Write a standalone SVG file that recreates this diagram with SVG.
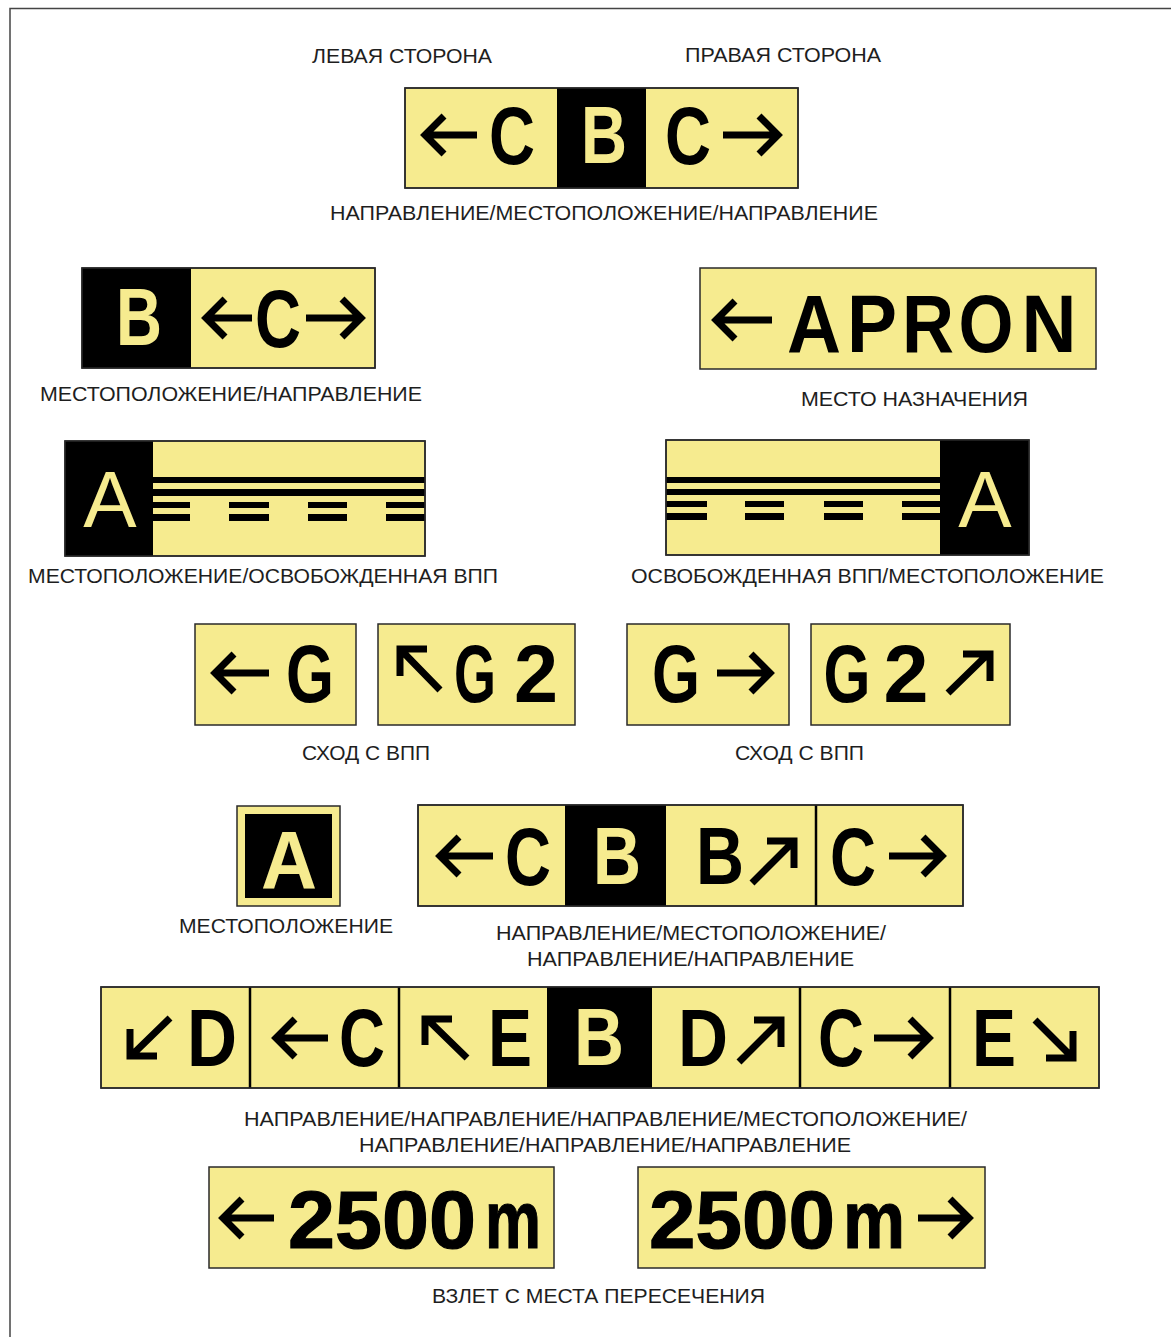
<svg xmlns="http://www.w3.org/2000/svg" width="1171" height="1337" viewBox="0 0 1171 1337">
<style>
.y{fill:#F6EB8F;stroke:#2a2a2a;stroke-width:1.5}
.k{fill:#000}
.bd{fill:none;stroke:#2a2a2a;stroke-width:1.5}
.dv{stroke:#000;stroke-width:2.5}
.L{font-family:"Liberation Sans",Arial,sans-serif;font-weight:bold;font-size:82px;text-anchor:middle;fill:#000}
.Ly{fill:#F6EB8F}
.R{font-family:"Liberation Sans",Arial,sans-serif;font-size:80px;text-anchor:middle;fill:#F6EB8F}
.N{font-family:"Liberation Sans",Arial,sans-serif;font-weight:bold;font-size:82px;fill:#000;stroke:#000;stroke-width:1.2}
.a{fill:none;stroke:#000;stroke-width:7;stroke-linejoin:miter;stroke-miterlimit:10}
.t{font-family:"Liberation Sans",Arial,sans-serif;font-size:21px;fill:#1e1e1e}
.rw{fill:#000}
</style>
<rect width="1171" height="1337" fill="#fff"/>
<path d="M10 1337V8.5H1171" fill="none" stroke="#444" stroke-width="1.5"/>

<g id="labels">
<text class="t" x="312" y="63" textLength="180" lengthAdjust="spacingAndGlyphs">ЛЕВАЯ СТОРОНА</text>
<text class="t" x="685" y="62" textLength="196" lengthAdjust="spacingAndGlyphs">ПРАВАЯ СТОРОНА</text>
<text class="t" x="330" y="220" textLength="548" lengthAdjust="spacingAndGlyphs">НАПРАВЛЕНИЕ/МЕСТОПОЛОЖЕНИЕ/НАПРАВЛЕНИЕ</text>
<text class="t" x="40" y="401" textLength="382" lengthAdjust="spacingAndGlyphs">МЕСТОПОЛОЖЕНИЕ/НАПРАВЛЕНИЕ</text>
<text class="t" x="801" y="406" textLength="227" lengthAdjust="spacingAndGlyphs">МЕСТО НАЗНАЧЕНИЯ</text>
<text class="t" x="28" y="583" textLength="470" lengthAdjust="spacingAndGlyphs">МЕСТОПОЛОЖЕНИЕ/ОСВОБОЖДЕННАЯ ВПП</text>
<text class="t" x="631" y="583" textLength="473" lengthAdjust="spacingAndGlyphs">ОСВОБОЖДЕННАЯ ВПП/МЕСТОПОЛОЖЕНИЕ</text>
<text class="t" x="302" y="760" textLength="128" lengthAdjust="spacingAndGlyphs">СХОД С ВПП</text>
<text class="t" x="735" y="760" textLength="129" lengthAdjust="spacingAndGlyphs">СХОД С ВПП</text>
<text class="t" x="179" y="933" textLength="214" lengthAdjust="spacingAndGlyphs">МЕСТОПОЛОЖЕНИЕ</text>
<text class="t" x="496" y="940" textLength="390" lengthAdjust="spacingAndGlyphs">НАПРАВЛЕНИЕ/МЕСТОПОЛОЖЕНИЕ/</text>
<text class="t" x="527" y="966" textLength="327" lengthAdjust="spacingAndGlyphs">НАПРАВЛЕНИЕ/НАПРАВЛЕНИЕ</text>
<text class="t" x="244" y="1126" textLength="723" lengthAdjust="spacingAndGlyphs">НАПРАВЛЕНИЕ/НАПРАВЛЕНИЕ/НАПРАВЛЕНИЕ/МЕСТОПОЛОЖЕНИЕ/</text>
<text class="t" x="359" y="1152" textLength="492" lengthAdjust="spacingAndGlyphs">НАПРАВЛЕНИЕ/НАПРАВЛЕНИЕ/НАПРАВЛЕНИЕ</text>
<text class="t" x="432" y="1303" textLength="333" lengthAdjust="spacingAndGlyphs">ВЗЛЕТ С МЕСТА ПЕРЕСЕЧЕНИЯ</text>
</g>

<g id="sign-top">
<rect class="y" x="405" y="88" width="393" height="100"/>
<rect class="k" x="557" y="88" width="89" height="100"/>
<rect class="bd" x="405" y="88" width="393" height="100"/>
<path class="a" d="M477 135H428M444 116L425 135L444 154"/>
<text class="L" x="512" y="164" textLength="46" lengthAdjust="spacingAndGlyphs">C</text>
<text class="L Ly" x="604" y="163" textLength="46" lengthAdjust="spacingAndGlyphs">B</text>
<text class="L" x="688" y="164" textLength="46" lengthAdjust="spacingAndGlyphs">C</text>
<path class="a" d="M723 135H775M759 116L778 135L759 154"/>
</g>

<g id="sign-b-c">
<rect class="y" x="82" y="268" width="293" height="100"/>
<rect class="k" x="82" y="268" width="109" height="100"/>
<rect class="bd" x="82" y="268" width="293" height="100"/>
<text class="L Ly" x="139" y="345" textLength="46" lengthAdjust="spacingAndGlyphs">B</text>
<path class="a" d="M252 318H209M225 299L206 318L225 337"/>
<text class="L" x="278" y="347" textLength="46" lengthAdjust="spacingAndGlyphs">C</text>
<path class="a" d="M306 318H358M342 299L361 318L342 337"/>
</g>

<g id="sign-apron">
<rect class="y" x="700" y="268" width="396" height="101"/>
<path class="a" d="M772 320H719M735 301L716 320L735 339"/>
<text class="L" x="814" y="352" font-size="85" textLength="54" lengthAdjust="spacingAndGlyphs">A</text>
<text class="L" x="872" y="352" font-size="85" textLength="50" lengthAdjust="spacingAndGlyphs">P</text>
<text class="L" x="928" y="352" font-size="85" textLength="52" lengthAdjust="spacingAndGlyphs">R</text>
<text class="L" x="986" y="352" font-size="85" textLength="55" lengthAdjust="spacingAndGlyphs">O</text>
<text class="L" x="1049" y="352" font-size="85" textLength="55" lengthAdjust="spacingAndGlyphs">N</text>
</g>

<g id="sign-runway-left">
<rect class="y" x="65" y="441" width="360" height="115"/>
<rect class="k" x="65" y="441" width="88" height="115"/>
<text class="R" x="110" y="527">A</text>
<rect class="rw" x="153" y="477" width="272" height="6"/>
<rect class="rw" x="153" y="489" width="272" height="7"/>
<rect class="rw" x="153" y="502" width="37" height="6"/>
<rect class="rw" x="153" y="514" width="37" height="7"/>
<rect class="rw" x="229" y="502" width="40" height="6"/>
<rect class="rw" x="229" y="514" width="40" height="7"/>
<rect class="rw" x="308" y="502" width="39" height="6"/>
<rect class="rw" x="308" y="514" width="39" height="7"/>
<rect class="rw" x="386" y="502" width="39" height="6"/>
<rect class="rw" x="386" y="514" width="39" height="7"/>
<rect class="bd" x="65" y="441" width="360" height="115"/>
</g>

<g id="sign-runway-right">
<rect class="y" x="666" y="440" width="363" height="115"/>
<rect class="k" x="940" y="440" width="89" height="115"/>
<text class="R" x="985" y="527">A</text>
<rect class="rw" x="666" y="477" width="274" height="6"/>
<rect class="rw" x="666" y="489" width="274" height="6"/>
<rect class="rw" x="666" y="501" width="41" height="6"/>
<rect class="rw" x="666" y="513" width="41" height="7"/>
<rect class="rw" x="745" y="501" width="39" height="6"/>
<rect class="rw" x="745" y="513" width="39" height="7"/>
<rect class="rw" x="824" y="501" width="39" height="6"/>
<rect class="rw" x="824" y="513" width="39" height="7"/>
<rect class="rw" x="902" y="501" width="38" height="6"/>
<rect class="rw" x="902" y="513" width="38" height="7"/>
<rect class="bd" x="666" y="440" width="363" height="115"/>
</g>

<g id="sign-g-left">
<rect class="y" x="195" y="624" width="161" height="101"/>
<path class="a" d="M269 673H218M234 654L215 673L234 692"/>
<text class="L" x="310" y="702" font-size="78" textLength="48" lengthAdjust="spacingAndGlyphs">G</text>
</g>
<g id="sign-g2-left">
<rect class="y" x="378" y="624" width="197" height="101"/>
<path class="a" d="M440 690L402 651M400 676V649H427"/>
<text class="L" x="475" y="702" font-size="78" textLength="42" lengthAdjust="spacingAndGlyphs">G</text>
<text class="L" x="536" y="702" font-size="78" textLength="44" lengthAdjust="spacingAndGlyphs">2</text>
</g>
<g id="sign-g-right">
<rect class="y" x="627" y="624" width="162" height="101"/>
<text class="L" x="676" y="702" font-size="78" textLength="48" lengthAdjust="spacingAndGlyphs">G</text>
<path class="a" d="M717 673H767M751 654L770 673L751 692"/>
</g>
<g id="sign-g2-right">
<rect class="y" x="811" y="624" width="199" height="101"/>
<text class="L" x="847" y="702" font-size="78" textLength="47" lengthAdjust="spacingAndGlyphs">G</text>
<text class="L" x="906" y="702" font-size="78" textLength="45" lengthAdjust="spacingAndGlyphs">2</text>
<path class="a" d="M948 693L988 654M963 654H990V681"/>
</g>

<g id="sign-location-a">
<rect class="y" x="237" y="806" width="103" height="100"/>
<rect class="k" x="245" y="814" width="87" height="84"/>
<text class="L Ly" x="289" y="888" font-size="78" textLength="56" lengthAdjust="spacingAndGlyphs">A</text>
</g>

<g id="sign-row5">
<rect class="y" x="418" y="805" width="545" height="101"/>
<rect class="k" x="565" y="805" width="101" height="101"/>
<line class="dv" x1="816" y1="805" x2="816" y2="906"/>
<rect class="bd" x="418" y="805" width="545" height="101"/>
<path class="a" d="M493 856H443M459 837L440 856L459 875"/>
<text class="L" x="528" y="885" textLength="46" lengthAdjust="spacingAndGlyphs">C</text>
<text class="L Ly" x="617" y="884" textLength="48" lengthAdjust="spacingAndGlyphs">B</text>
<text class="L" x="720" y="884" textLength="48" lengthAdjust="spacingAndGlyphs">B</text>
<path class="a" d="M752 883L792 843M767 841H794V868"/>
<text class="L" x="853" y="885" textLength="46" lengthAdjust="spacingAndGlyphs">C</text>
<path class="a" d="M889 856H939M923 837L942 856L923 875"/>
</g>

<g id="sign-row6">
<rect class="y" x="101" y="987" width="998" height="101"/>
<rect class="k" x="547" y="987" width="105" height="101"/>
<line class="dv" x1="250" y1="987" x2="250" y2="1088"/>
<line class="dv" x1="399" y1="987" x2="399" y2="1088"/>
<line class="dv" x1="800" y1="987" x2="800" y2="1088"/>
<line class="dv" x1="950" y1="987" x2="950" y2="1088"/>
<rect class="bd" x="101" y="987" width="998" height="101"/>
<path class="a" d="M170 1018L132 1055M130 1029V1056H157"/>
<text class="L" x="212" y="1066" textLength="50" lengthAdjust="spacingAndGlyphs">D</text>
<path class="a" d="M328 1038H279M295 1019L276 1038L295 1057"/>
<text class="L" x="362" y="1066" textLength="46" lengthAdjust="spacingAndGlyphs">C</text>
<path class="a" d="M467 1058L427 1019M425 1045V1019H452"/>
<text class="L" x="510" y="1066" textLength="44" lengthAdjust="spacingAndGlyphs">E</text>
<text class="L Ly" x="599" y="1065" textLength="50" lengthAdjust="spacingAndGlyphs">B</text>
<text class="L" x="703" y="1066" textLength="50" lengthAdjust="spacingAndGlyphs">D</text>
<path class="a" d="M739 1062L779 1022M754 1020H781V1047"/>
<text class="L" x="841" y="1066" textLength="46" lengthAdjust="spacingAndGlyphs">C</text>
<path class="a" d="M874 1038H926M910 1019L929 1038L910 1057"/>
<text class="L" x="994" y="1066" textLength="44" lengthAdjust="spacingAndGlyphs">E</text>
<path class="a" d="M1035 1020L1071 1056M1046 1058H1073V1031"/>
</g>

<g id="sign-2500-left">
<rect class="y" x="209" y="1167" width="345" height="101"/>
<path class="a" d="M274 1218H226M242 1199L223 1218L242 1237"/>
<text class="N" x="288" y="1248" textLength="188" lengthAdjust="spacingAndGlyphs">2500</text>
<text class="N" x="485" y="1248" textLength="56" lengthAdjust="spacingAndGlyphs">m</text>
</g>
<g id="sign-2500-right">
<rect class="y" x="638" y="1167" width="347" height="101"/>
<text class="N" x="649" y="1248" textLength="186" lengthAdjust="spacingAndGlyphs">2500</text>
<text class="N" x="843" y="1248" textLength="62" lengthAdjust="spacingAndGlyphs">m</text>
<path class="a" d="M918 1218H966M950 1199L969 1218L950 1237"/>
</g>
</svg>
